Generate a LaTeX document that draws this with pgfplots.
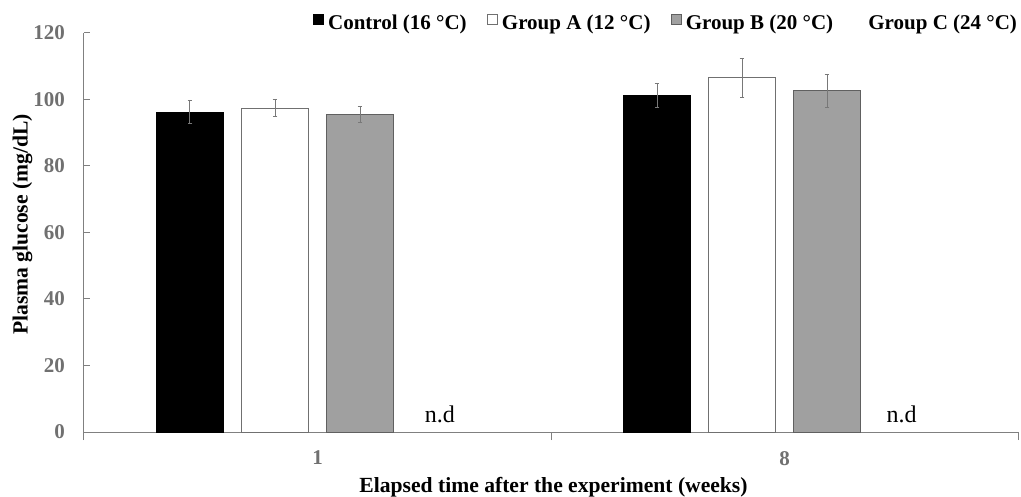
\documentclass[border=0pt]{standalone}
\usepackage{fontspec}
\setmainfont{Liberation Serif}
\usepackage{pgfplots}
\usepackage{pgfplotstable}
\pgfplotsset{compat=1.18}

\definecolor{axisgray}{RGB}{128,128,128}
\definecolor{ticktext}{RGB}{112,112,112}
\definecolor{barfillgray}{RGB}{160,160,160}
\definecolor{bardrawgray}{RGB}{96,96,96}
\definecolor{whitebardraw}{RGB}{112,112,112}
\definecolor{errgray}{RGB}{120,120,120}

% x = 0 -> week 1, x = 1 -> week 8
\pgfplotstableread{
x mean err
0 96.2 3.4
1 101.2 3.6
}\controldata
\pgfplotstableread{
x mean err
0 97.4 2.6
1 106.5 5.8
}\groupAdata
\pgfplotstableread{
x mean err
0 95.6 2.4
1 102.6 4.9
}\groupBdata

\begin{document}
\begin{tikzpicture}
\begin{axis}[
  scale only axis,
  width=467pt, height=199.5pt,
  xmin=-0.5, xmax=1.5, ymin=0, ymax=120,
  axis x line=bottom, axis y line=left,
  axis line style={axisgray, line width=0.5pt, -},
  tick align=inside,
  ytick={0,20,...,120},
  major tick length=3pt,
  tick style={axisgray, line width=0.5pt},
  xtick={0,1}, xticklabels={1,8},
  major x tick style={draw=none},
  minor xtick={-0.5,0.5,1.5},
  minor tick length=4pt,
  /pgf/number format/assume math mode=true,
  ticklabel style={font=\fontsize{10.5}{12}\selectfont\bfseries, text=ticktext},
  yticklabel style={xshift=-6pt},
  xticklabel style={yshift=-3pt},
  ylabel={Plasma glucose (mg/dL)},
  xlabel={Elapsed time after the experiment (weeks)},
  label style={font=\fontsize{10.8}{12}\selectfont\bfseries},
  ylabel style={at={(axis description cs:-0.0658,0.52)}, anchor=center},
  xlabel style={at={(axis description cs:0.5027,0)}, anchor=base, yshift=-30.25pt},
  ybar, bar width=33.5pt,
  sqlegend/.style={legend image code/.code={\draw[##1, line width=0.5pt] (0pt,-0.2pt) rectangle (5pt,4.8pt);}},
  legend columns=4,
  legend style={at={(1,1)}, anchor=south east, xshift=1.5pt, draw=none, fill=none, inner sep=0pt,
    font=\fontsize{10.5}{12}\selectfont\bfseries,
    nodes={inner xsep=1.8pt, inner ysep=0pt},
    /tikz/every even column/.append style={column sep=8.5pt}},
  error bars/error bar style={errgray, line width=0.5pt},
  error bars/error mark options={errgray, rotate=90, mark size=1.2pt, line width=0.5pt},
]
\addplot[sqlegend, bar shift=-63.75pt, fill=black, draw=black, line width=0.5pt,
  error bars/.cd, y dir=both, y explicit]
  table[x=x, y=mean, y error=err] {\controldata};
\addlegendentry{Control (16 °C)}
\addplot[sqlegend, bar shift=-21.25pt, fill=white, draw=whitebardraw, line width=0.5pt,
  error bars/.cd, y dir=both, y explicit]
  table[x=x, y=mean, y error=err] {\groupAdata};
\addlegendentry{Group A (12 °C)}
\addplot[sqlegend, bar shift=21.25pt, fill=barfillgray, draw=bardrawgray, line width=0.5pt,
  error bars/.cd, y dir=both, y explicit]
  table[x=x, y=mean, y error=err] {\groupBdata};
\addlegendentry{Group B (20 °C)}
% Group C was not detected at either time point
\addlegendimage{sqlegend, draw=white, fill=white}
\addlegendentry{Group C (24 °C)}
\node[font=\fontsize{12}{14}\selectfont, anchor=base] at (axis cs:0.262,3) {n.d};
\node[font=\fontsize{12}{14}\selectfont, anchor=base] at (axis cs:1.251,3) {n.d};
\end{axis}
\pgfresetboundingbox
\useasboundingbox ([shift={(-42pt,-32.5pt)}]current axis.south west) rectangle ([shift={(1.5pt,16.5pt)}]current axis.north east);
\end{tikzpicture}
\end{document}
